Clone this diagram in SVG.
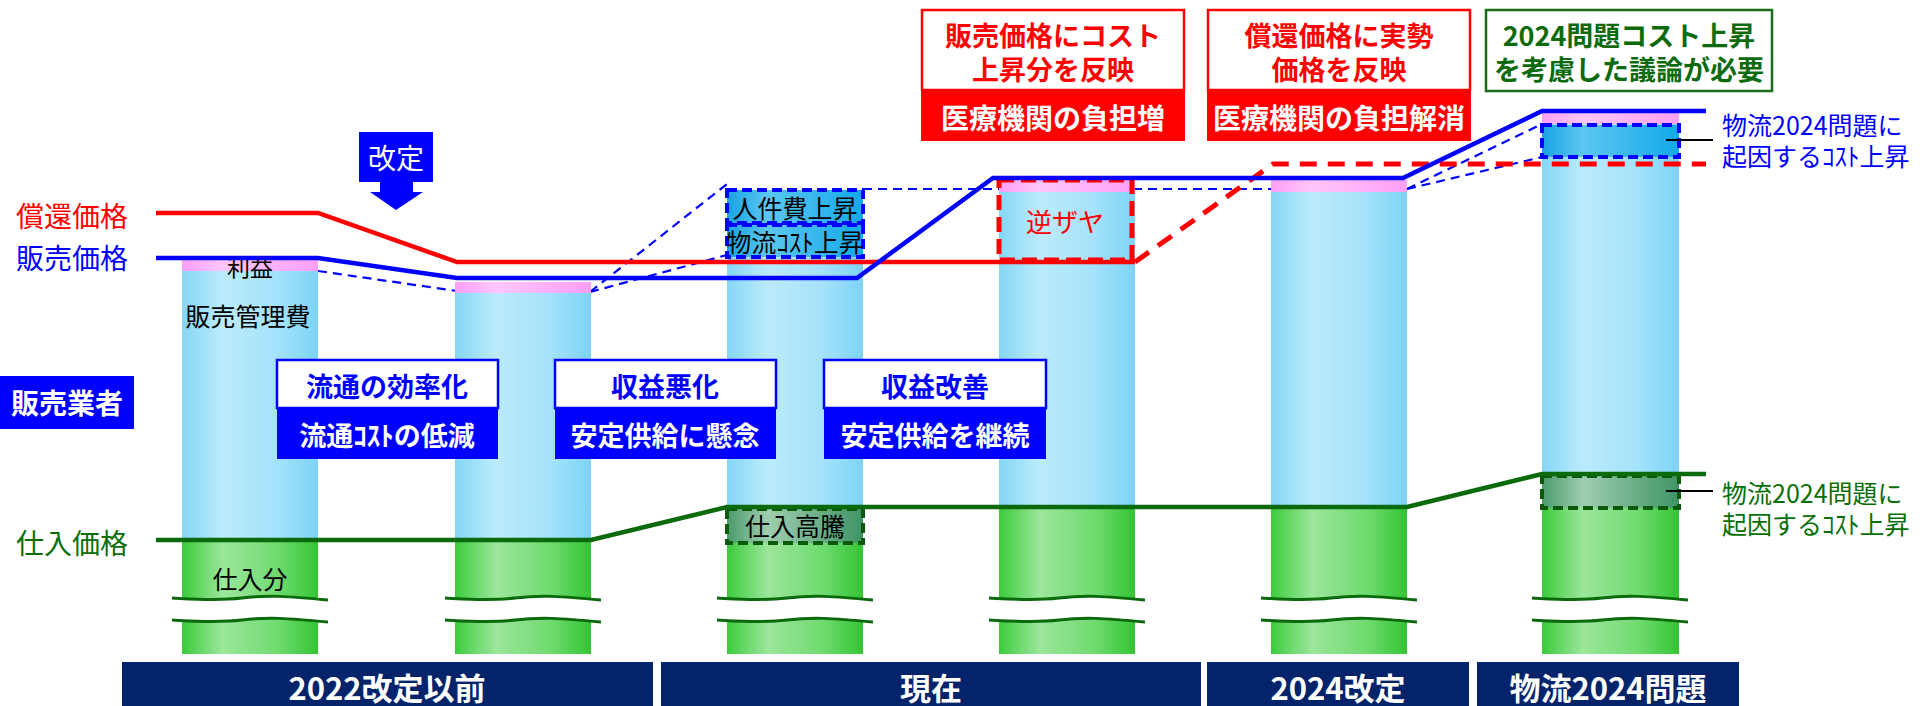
<svg xmlns="http://www.w3.org/2000/svg" width="1930" height="706" viewBox="0 0 1930 706">
<defs>
<linearGradient id="gB" x1="0" x2="1" y1="0" y2="0"><stop offset="0" stop-color="#84d6f6"/><stop offset="0.3" stop-color="#bcebfb"/><stop offset="0.7" stop-color="#a4e2fa"/><stop offset="1" stop-color="#7dd3f7"/></linearGradient>
<linearGradient id="gG" x1="0" x2="1" y1="0" y2="0"><stop offset="0" stop-color="#3ccb3c"/><stop offset="0.3" stop-color="#9be69b"/><stop offset="0.7" stop-color="#70db70"/><stop offset="1" stop-color="#33c533"/></linearGradient>
<linearGradient id="gP" x1="0" x2="1" y1="0" y2="0"><stop offset="0" stop-color="#ff9ff7"/><stop offset="0.3" stop-color="#ffc6fb"/><stop offset="1" stop-color="#ff9ff7"/></linearGradient>
<linearGradient id="gDB" x1="0" x2="1" y1="0" y2="0"><stop offset="0" stop-color="#17a3e4"/><stop offset="0.3" stop-color="#5cc6f0"/><stop offset="1" stop-color="#13a9ea"/></linearGradient>
<linearGradient id="gDG" x1="0" x2="1" y1="0" y2="0"><stop offset="0" stop-color="#4a9a6c"/><stop offset="0.3" stop-color="#9fcdb0"/><stop offset="1" stop-color="#3f9466"/></linearGradient>
<path id="wv" d="M0,0 C20,1 45,3 70,0 C95,-3 115,-2 156,2"/>
<g id="brk">
<path d="M0,0 C20,1 45,3 70,0 C95,-3 115,-2 156,2 L156,24 C115,20 95,19 70,22 C45,25 20,23 0,22 Z" fill="#fff"/>
<use href="#wv" fill="none" stroke="#0b6a0b" stroke-width="3"/>
<use href="#wv" y="22" fill="none" stroke="#0b6a0b" stroke-width="3"/>
</g>
</defs>
<style>
text{font-family:'Noto Sans CJK JP','Noto Sans',sans-serif;dominant-baseline:central;text-anchor:middle}
.b{font-weight:700}
.lbl{text-anchor:start;font-size:28px}
.pink{fill:url(#gP)}
.blue{fill:url(#gB)}
.green{fill:url(#gG)}
.thin{fill:none;stroke:#0000ff;stroke-width:2.2;stroke-dasharray:9 6}
.solid{fill:none;stroke-width:4.5;stroke-linejoin:miter}
.dbox{fill:url(#gDB);stroke:#0000ff;stroke-width:4;stroke-dasharray:10 5}
.gbox{fill:url(#gDG);stroke:#0a5a0a;stroke-width:4;stroke-dasharray:10 5}
.bar{fill:#03236b}
.bt{fill:#fff;font-size:31px;font-weight:700}
.lead{stroke:#000;stroke-width:2}
.note{text-anchor:start;font-size:25px}
</style>
<rect width="1930" height="706" fill="#fff"/>

<g id="connectors-behind">
<path class="thin" d="M318,271 L457,291"/>
<path class="thin" d="M590,292 L727,184"/>
<path class="thin" d="M590,292 L727,255"/>
<path class="thin" d="M863,189 L1273,189"/>
<path class="thin" d="M1407,189 L1542,124"/>
<path class="thin" d="M1407,189 L1542,157"/>
</g>

<g id="col1">
<rect class="pink" x="182" y="260" width="136" height="11"/>
<rect class="blue" x="182" y="271" width="136" height="269"/>
<rect class="green" x="182" y="540" width="136" height="114"/>
<use href="#brk" x="172" y="598"/>
<text x="250" y="266" font-size="23">利益</text>
<text x="248" y="315" font-size="25">販売管理費</text>
<text x="250" y="578" font-size="25">仕入分</text>
</g>
<g id="col2">
<rect class="pink" x="455" y="282" width="136" height="11"/>
<rect class="blue" x="455" y="293" width="136" height="247"/>
<rect class="green" x="455" y="540" width="136" height="114"/>
<use href="#brk" x="445" y="598"/>
</g>
<g id="col3">
<rect class="blue" x="727" y="190" width="136" height="317"/>
<rect class="green" x="727" y="507" width="136" height="147"/>
<use href="#brk" x="717" y="598"/>
<rect class="dbox" x="727" y="190" width="136" height="33"/>
<rect class="dbox" x="727" y="225" width="136" height="32"/>
<text x="795" y="207" font-size="25">人件費上昇</text>
<text x="795" y="241" font-size="25">物流ｺｽﾄ上昇</text>
<rect class="gbox" x="727" y="509" width="136" height="34"/>
<text x="795" y="525" font-size="25">仕入高騰</text>
</g>
<g id="col4">
<rect class="pink" x="999" y="180" width="136" height="12"/>
<rect class="blue" x="999" y="192" width="136" height="315"/>
<rect class="green" x="999" y="507" width="136" height="147"/>
<use href="#brk" x="989" y="598"/>
</g>
<g id="col5">
<rect class="pink" x="1271" y="180" width="136" height="12"/>
<rect class="blue" x="1271" y="192" width="136" height="315"/>
<rect class="green" x="1271" y="507" width="136" height="147"/>
<use href="#brk" x="1261" y="598"/>
</g>
<g id="col6">
<rect class="pink" x="1542" y="112" width="137" height="12"/>
<rect class="blue" x="1542" y="124" width="137" height="350"/>
<rect class="green" x="1542" y="474" width="137" height="180"/>
<use href="#brk" x="1532" y="598"/>
<rect class="dbox" x="1542" y="125" width="137" height="32"/>
<rect class="gbox" x="1542" y="476" width="137" height="32"/>
</g>

<g id="gyakuzaya">
<rect x="999" y="180" width="133" height="80" fill="none" stroke="#ff0000" stroke-width="5" stroke-dasharray="15 7"/>
<text x="1065" y="220" font-size="26" fill="#ff0000">逆ザヤ</text>
</g>

<g id="connectors">
<path class="solid" stroke="#ff0000" d="M156,213 L318,213 L457,262 L1135,262"/>
<path fill="none" stroke="#ff0000" stroke-width="5" stroke-dasharray="17 11" d="M1135,262 L1273,164 L1706,164"/>
<path class="solid" stroke="#0000ff" d="M156,258 L318,258 L457,278 L857,278 L993,178 L1403,178 L1542,111 L1706,111"/>
<path class="solid" stroke="#0b6a0b" d="M156,540 L591,540 L727,507 L1407,507 L1542,474 L1706,474"/>
<path class="lead" d="M1666,140 L1713,140"/>
<path class="lead" d="M1666,491 L1713,491"/>
</g>

<g id="labels-left">
<text class="lbl" x="16" y="215" fill="#ff0000">償還価格</text>
<text class="lbl" x="16" y="257" fill="#0000ff">販売価格</text>
<text class="lbl" x="16" y="542" fill="#0a6e0a">仕入価格</text>
</g>

<g id="hanbai">
<rect x="0" y="376" width="134" height="53" fill="#0000ff"/>
<text x="67" y="402" class="b" font-size="28" fill="#fff">販売業者</text>
</g>

<g id="kaitei">
<path d="M359,132 H433 V182 H413 V192 H423 L396,210 L370,192 H380 V182 H359 Z" fill="#0000ff"/>
<text x="396" y="157" font-size="28" fill="#fff">改定</text>
</g>

<g id="boxA">
<rect x="277" y="360" width="221" height="48" fill="#fff" stroke="#0000ff" stroke-width="2.5"/>
<rect x="277" y="408" width="221" height="51" fill="#0000ff"/>
<text x="387" y="385" class="b" font-size="27" fill="#0000ff">流通の効率化</text>
<text x="387" y="434" class="b" font-size="27" fill="#fff">流通ｺｽﾄの低減</text>
</g>
<g id="boxB">
<rect x="555" y="360" width="221" height="48" fill="#fff" stroke="#0000ff" stroke-width="2.5"/>
<rect x="555" y="408" width="221" height="51" fill="#0000ff"/>
<text x="665" y="385" class="b" font-size="27" fill="#0000ff">収益悪化</text>
<text x="665" y="434" class="b" font-size="27" fill="#fff">安定供給に懸念</text>
</g>
<g id="boxC">
<rect x="824" y="360" width="222" height="48" fill="#fff" stroke="#0000ff" stroke-width="2.5"/>
<rect x="824" y="408" width="222" height="51" fill="#0000ff"/>
<text x="935" y="385" class="b" font-size="27" fill="#0000ff">収益改善</text>
<text x="935" y="434" class="b" font-size="27" fill="#fff">安定供給を継続</text>
</g>

<g id="head1">
<rect x="922" y="10" width="262" height="80" fill="#fff" stroke="#ff0000" stroke-width="2.5"/>
<rect x="921" y="90" width="264" height="51" fill="#ff0000"/>
<text class="b" font-size="27" fill="#ff0000"><tspan x="1053" y="34">販売価格にコスト</tspan><tspan x="1053" y="68">上昇分を反映</tspan></text>
<text x="1053" y="117" class="b" font-size="28" fill="#fff">医療機関の負担増</text>
</g>
<g id="head2">
<rect x="1208" y="10" width="262" height="80" fill="#fff" stroke="#ff0000" stroke-width="2.5"/>
<rect x="1207" y="90" width="264" height="51" fill="#ff0000"/>
<text class="b" font-size="27" fill="#ff0000"><tspan x="1339" y="34">償還価格に実勢</tspan><tspan x="1339" y="68">価格を反映</tspan></text>
<text x="1339" y="117" class="b" font-size="28" fill="#fff">医療機関の負担解消</text>
</g>
<g id="head3">
<rect x="1486" y="10" width="286" height="81" fill="#fff" stroke="#1a6e1a" stroke-width="2.5"/>
<text class="b" font-size="27" fill="#0d6a0d"><tspan x="1629" y="34">2024問題コスト上昇</tspan><tspan x="1629" y="68">を考慮した議論が必要</tspan></text>
</g>

<g id="note-blue">
<text class="note" fill="#0000ff"><tspan x="1722" y="124">物流2024問題に</tspan><tspan x="1722" y="155">起因するｺｽﾄ上昇</tspan></text>
</g>
<g id="note-green">
<text class="note" fill="#0a6e0a"><tspan x="1722" y="492">物流2024問題に</tspan><tspan x="1722" y="523">起因するｺｽﾄ上昇</tspan></text>
</g>

<g id="bar1"><rect class="bar" x="122" y="662" width="531" height="44"/><text class="bt" x="387" y="686">2022改定以前</text></g>
<g id="bar2"><rect class="bar" x="661" y="662" width="540" height="44"/><text class="bt" x="931" y="686">現在</text></g>
<g id="bar3"><rect class="bar" x="1207" y="662" width="262" height="44"/><text class="bt" x="1338" y="686">2024改定</text></g>
<g id="bar4"><rect class="bar" x="1477" y="662" width="262" height="44"/><text class="bt" x="1608" y="686">物流2024問題</text></g>
</svg>
